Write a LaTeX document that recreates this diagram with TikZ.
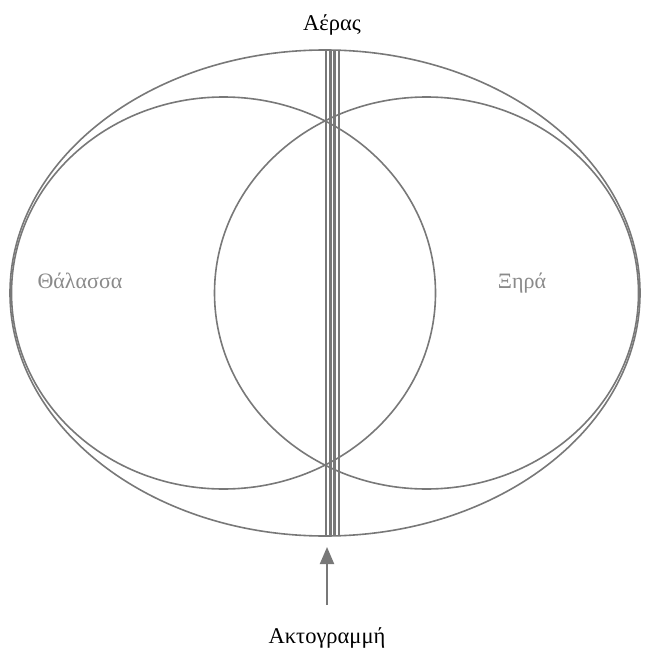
\documentclass[tikz,border=0pt]{standalone}
\usepackage{fontspec}
\setmainfont{Liberation Serif}
\usetikzlibrary{arrows.meta,shapes.geometric}
\definecolor{linegray}{HTML}{787878}
\definecolor{textgray}{HTML}{8A8A8A}
\begin{document}
\begin{tikzpicture}[x=1pt,y=-1pt,
  shapeline/.style={draw=linegray, line width=1.6pt, fill=none},
  barline/.style={draw=linegray, line width=2.6pt},
  lbl/.style={font=\fontsize{22.5}{26}\selectfont, inner sep=0pt},
  graylbl/.style={font=\fontsize{22}{26}\selectfont, inner sep=0pt, text=textgray}]
\useasboundingbox (0,0) rectangle (644,652);
% outer ellipse
\node[shapeline, ellipse, minimum width=630pt, minimum height=486pt, inner sep=0pt] (outer) at (325,293) {};
% inner shapes
\node[shapeline, ellipse, minimum width=424pt, minimum height=392pt, inner sep=0pt] (sea) at (223.5,293) {};
\node[shapeline, ellipse, minimum width=424pt, minimum height=392pt, inner sep=0pt] (land) at (426.5,293) {};
% coastline bars
\foreach \x [count=\i] in {326,330.5,334.5,339}{
  \coordinate (bt\i) at (\x,50);
  \coordinate (bb\i) at (\x,536);
  \draw[barline] (bt\i) -- (bb\i);
}
% labels
\node[lbl] (air) at (332,25) {Αέρας};
\node[graylbl] (sealbl) at (80,281) {Θάλασσα};
\node[graylbl] (landlbl) at (522,283) {Ξηρά};
\node[lbl] (coast) at (327,638) {Ακτογραμμή};
% arrow
\coordinate (arrtail) at (327,605);
\coordinate (arrtip) at (327,547);
\draw[draw=linegray, line width=1.9pt, -{Triangle[length=17pt,width=14pt]}] (arrtail) -- (arrtip);
\end{tikzpicture}
\end{document}
